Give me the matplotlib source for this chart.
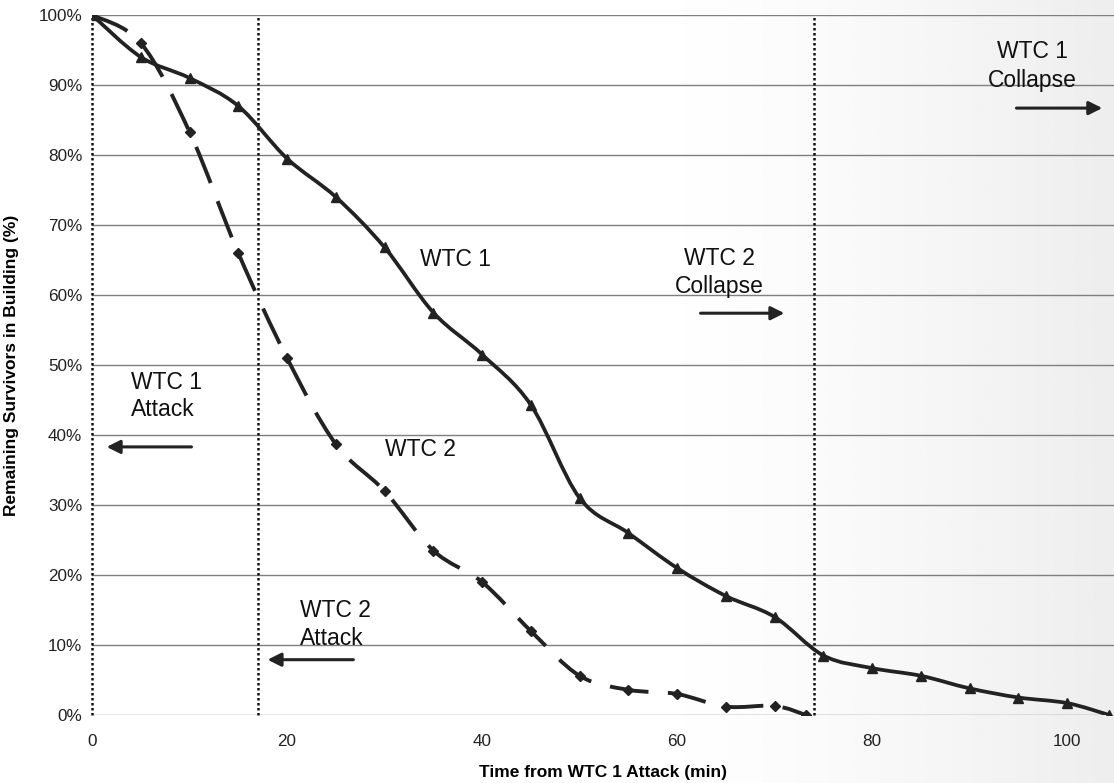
import numpy as np
import matplotlib
matplotlib.use("Agg")
import matplotlib.pyplot as plt
from matplotlib.path import Path
from matplotlib.patches import PathPatch

plt.rcParams['font.family'] = ['Liberation Sans', 'DejaVu Sans']

# ---- data ----
wtc1_time = [0, 5, 10, 15, 20, 25, 30, 35, 40, 45, 50, 55, 60, 65, 70, 75, 80, 85, 90, 95, 100, 104.3]
wtc1_pct = [100, 94, 91, 87, 79.5, 74, 66.8, 57.5, 51.5, 44.3, 31, 26, 21, 17, 14, 8.5, 6.7, 5.6, 3.8, 2.5, 1.7, 0]
wtc2_time = [0, 5, 10, 15, 20, 25, 30, 35, 40, 45, 50, 55, 60, 65, 70, 73.2]
wtc2_pct = [100, 96, 83.3, 66, 51, 38.7, 32, 23.5, 19, 12, 5.6, 3.6, 3.0, 1.2, 1.3, 0]
event_times = [0, 17, 74]
x_ticks = [0, 20, 40, 60, 80, 100]
y_ticks = [0, 10, 20, 30, 40, 50, 60, 70, 80, 90, 100]


def smooth_path(xs, ys):
    """Catmull-Rom style Bezier path through the data points (Excel-like smoothed line)."""
    xs = np.asarray(xs, float)
    ys = np.asarray(ys, float)
    n = len(xs)
    verts = [(xs[0], ys[0])]
    codes = [Path.MOVETO]
    for i in range(n - 1):
        p0 = np.array([xs[max(i - 1, 0)], ys[max(i - 1, 0)]])
        p1 = np.array([xs[i], ys[i]])
        p2 = np.array([xs[i + 1], ys[i + 1]])
        p3 = np.array([xs[min(i + 2, n - 1)], ys[min(i + 2, n - 1)]])
        c1 = p1 + (p2 - p0) / 6.0
        c2 = p2 - (p3 - p1) / 6.0
        verts += [tuple(c1), tuple(c2), tuple(p2)]
        codes += [Path.CURVE4, Path.CURVE4, Path.CURVE4]
    return Path(verts, codes)


fig = plt.figure(figsize=(11.14, 7.83), dpi=100)

# faint scanned-paper shading towards the right edge
bg = fig.add_axes([0, 0, 1, 1], zorder=-10)
g = np.clip((np.linspace(0, 1, 400) - 0.55) / 0.45, 0, 1) ** 1.5
shade = 1.0 - 0.07 * g
bg.imshow(np.tile(shade, (10, 1)), cmap='gray', vmin=0, vmax=1, aspect='auto',
          extent=[0, 1, 0, 1], interpolation='bilinear')
bg.axis('off')

ax = fig.add_axes([92 / 1114, 68 / 783, 1022 / 1114, 700 / 783])
ax.patch.set_alpha(0)
ax.set_xlim(0, 104.8)
ax.set_ylim(0, 100)

# gridlines
for yv in y_ticks:
    ax.axhline(yv, color='#7f7f7f', lw=1.0, zorder=1)

# event lines
for t in event_times:
    ax.plot([t, t], [0, 100], color='#111111', lw=1.8, ls=(0, (1, 1)), zorder=2, clip_on=False)

# series
ax.add_patch(PathPatch(smooth_path(wtc1_time, wtc1_pct), fill=False,
                       edgecolor='#222222', lw=2.7, zorder=3, capstyle='round'))
ax.plot(wtc1_time, wtc1_pct, ls='none', marker='^', ms=6.5, color='#222222', zorder=4)

ax.add_patch(PathPatch(smooth_path(wtc2_time, wtc2_pct), fill=False,
                       edgecolor='#222222', lw=2.8, ls=(0, (10, 5)), zorder=3))
ax.plot(wtc2_time, wtc2_pct, ls='none', marker='D', ms=5, color='#222222', zorder=4)

# labels
tk = dict(fontsize=16.5, color='#111111')
ax.text(33.6, 65, 'WTC 1', ha='left', va='center', **tk)
ax.text(30.0, 38, 'WTC 2', ha='left', va='center', **tk)
ax.text(4.0, 45.6, 'WTC 1\nAttack', ha='left', va='center', linespacing=1.25, **tk)
ax.text(21.3, 12.9, 'WTC 2\nAttack', ha='left', va='center', linespacing=1.25, **tk)
ax.text(64.3, 63.2, 'WTC 2\nCollapse', ha='center', va='center', linespacing=1.25, **tk)
ax.text(96.4, 92.7, 'WTC 1\nCollapse', ha='center', va='center', linespacing=1.3, **tk)

arrow = dict(arrowstyle='-|>', color='#222222', lw=2.2, mutation_scale=20,
             shrinkA=0, shrinkB=0)
ax.annotate('', xy=(1.5, 38.3), xytext=(10.2, 38.3), arrowprops=arrow)
ax.annotate('', xy=(18.0, 7.9), xytext=(26.8, 7.9), arrowprops=arrow)
ax.annotate('', xy=(71.0, 57.4), xytext=(62.4, 57.4), arrowprops=arrow)
ax.annotate('', xy=(103.6, 86.7), xytext=(94.8, 86.7), arrowprops=arrow)

# axes styling
for s in ['top', 'right', 'left', 'bottom']:
    ax.spines[s].set_visible(False)
ax.set_xticks(x_ticks)
ax.set_xticklabels([str(v) for v in x_ticks])
ax.set_yticks(y_ticks)
ax.set_yticklabels([f'{v}%' for v in y_ticks])
ax.tick_params(axis='both', labelsize=12.3, colors='#222222', length=0, pad=7)
ax.tick_params(axis='x', pad=14)
ax.set_xlabel('Time from WTC 1 Attack (min)', fontsize=12.5, fontweight='bold', labelpad=11)
ax.set_ylabel('Remaining Survivors in Building (%)', fontsize=12.5, fontweight='bold', labelpad=14)

fig.savefig('out.png', dpi=100)
